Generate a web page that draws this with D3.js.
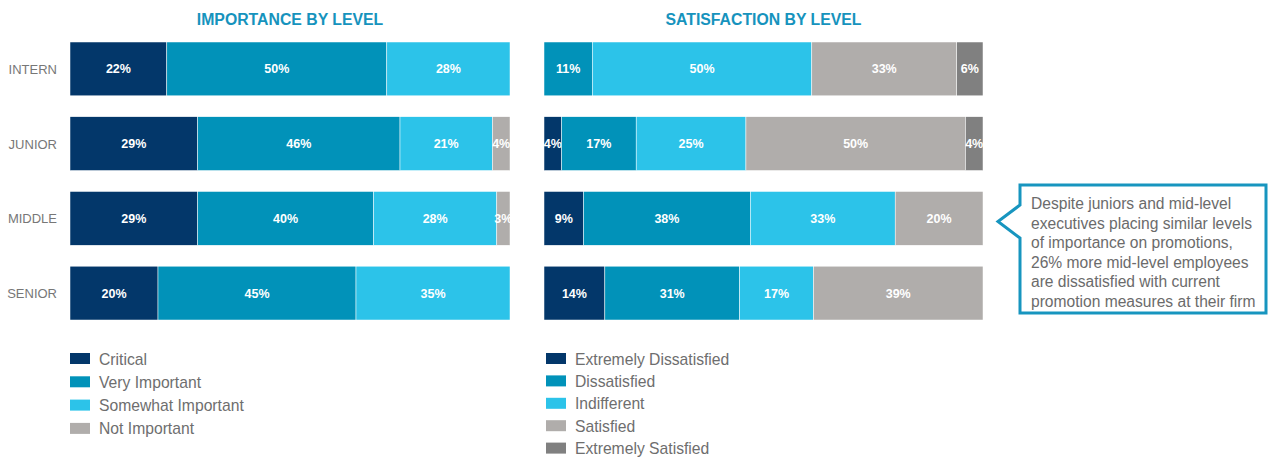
<!DOCTYPE html>
<html lang="en">
<head>
<meta charset="utf-8">
<title>Importance and Satisfaction by Level</title>
<script src="https://d3js.org/d3.v7.min.js"></script>
<style>
  body { margin: 0; background: #fff; }
  svg { display: block; font-family: "Liberation Sans", Arial, Helvetica, sans-serif; }
</style>
</head>
<body>
<script>
// ---- data ----
const levels = ["INTERN", "JUNIOR", "MIDDLE", "SENIOR"];

const importanceKeys = ["Critical", "Very Important", "Somewhat Important", "Not Important"];
const critical          = [22, 29, 29, 20];
const veryImportant     = [50, 46, 40, 45];
const somewhatImportant = [28, 21, 28, 35];
const notImportant      = [0, 4, 3, 0];

const satisfactionKeys = ["Extremely Dissatisfied", "Dissatisfied", "Indifferent", "Satisfied", "Extremely Satisfied"];
const extremelyDissatisfied = [0, 4, 9, 14];
const dissatisfied          = [11, 17, 38, 31];
const indifferent           = [50, 25, 33, 17];
const satisfied             = [33, 50, 20, 39];
const extremelySatisfied    = [6, 4, 0, 0];

const calloutLines = [
  "Despite juniors and mid-level",
  "executives placing similar levels",
  "of importance on promotions,",
  "26% more mid-level employees",
  "are dissatisfied with current",
  "promotion measures at their firm"
];

const W = 1268, H = 459;
const blues = ["#03376a", "#0192b9", "#2cc3e9", "#b0adab"];
const sats  = ["#03376a", "#0192b9", "#2cc3e9", "#b0adab", "#808080"];

const svg = d3.select("body").append("svg")
  .attr("width", W).attr("height", H);

const y = d3.scaleBand().domain(levels).range([42, 320]).paddingInner(0.28);

function rows(keys, series) {
  return levels.map((lv, i) => {
    const r = { level: lv };
    keys.forEach((k, j) => r[k] = series[j][i]);
    return r;
  });
}

function drawPanel(opts) {
  const g = svg.append("g");
  const x = d3.scaleLinear().domain([0, 1]).range([opts.x0, opts.x1]);
  const color = d3.scaleOrdinal().domain(opts.keys).range(opts.colors);
  const data = rows(opts.keys, opts.series);
  // shares per row (the senior satisfaction row adds to 101)
  const stacked = d3.stack().keys(opts.keys).offset(d3.stackOffsetExpand)(data);

  g.append("text")
    .attr("x", (opts.x0 + opts.x1) / 2)
    .attr("y", 25)
    .attr("text-anchor", "middle")
    .attr("fill", "#1693bd")
    .attr("font-weight", "bold")
    .attr("font-size", 15.8)
    .text(opts.title);

  const layer = g.selectAll("g.layer")
    .data(stacked)
    .enter().append("g")
      .attr("class", "layer")
      .attr("fill", d => color(d.key));

  layer.selectAll("rect")
    .data(d => d.filter(s => s[1] - s[0] > 0))
    .enter().append("rect")
      .attr("x", d => x(d[0]))
      .attr("y", d => y(d.data.level))
      .attr("width", d => x(d[1]) - x(d[0]))
      .attr("height", y.bandwidth())
      .attr("stroke", "#fff")
      .attr("stroke-width", 0.5);

  layer.selectAll("text")
    .data(d => d.filter(s => s[1] - s[0] > 0).map(s => ({ s: s, key: d.key })))
    .enter().append("text")
      .attr("x", d => (x(d.s[0]) + x(d.s[1])) / 2)
      .attr("y", d => y(d.s.data.level) + y.bandwidth() / 2 + 4.5)
      .attr("text-anchor", "middle")
      .attr("fill", "#fff")
      .attr("font-weight", "bold")
      .attr("font-size", 12.5)
      .text(d => d.s.data[d.key] + "%");

  // legend
  const lg = g.selectAll("g.legend")
    .data(opts.keys)
    .enter().append("g")
      .attr("class", "legend")
      .attr("transform", (d, i) => `translate(${opts.legendX},${359 + i * opts.legendStep})`);
  lg.append("rect")
    .attr("x", 0).attr("y", -6)
    .attr("width", 20).attr("height", 11)
    .attr("fill", d => color(d));
  lg.append("text")
    .attr("x", 29).attr("y", 5.5)
    .attr("fill", "#6e6e6e")
    .attr("font-size", 15.7)
    .text(d => d);

  return x;
}

drawPanel({
  title: "IMPORTANCE BY LEVEL",
  keys: importanceKeys,
  series: [critical, veryImportant, somewhatImportant, notImportant],
  colors: blues, x0: 70, x1: 510, legendX: 70, legendStep: 23.3
});

drawPanel({
  title: "SATISFACTION BY LEVEL",
  keys: satisfactionKeys,
  series: [extremelyDissatisfied, dissatisfied, indifferent, satisfied, extremelySatisfied],
  colors: sats, x0: 544, x1: 983, legendX: 546, legendStep: 22.4
});

// category labels
svg.append("g").selectAll("text")
  .data(levels)
  .enter().append("text")
    .attr("x", 57)
    .attr("y", d => y(d) + y.bandwidth() / 2 + 5)
    .attr("text-anchor", "end")
    .attr("fill", "#777")
    .attr("font-size", 13)
    .text(d => d);

// callout
const cb = { l: 1020, t: 185, r: 1266, b: 313 };
svg.append("path")
  .attr("d", `M${cb.l},${cb.t}H${cb.r}V${cb.b}H${cb.l}V238L998,221.5L${cb.l},205Z`)
  .attr("fill", "#fff")
  .attr("stroke", "#1795bf")
  .attr("stroke-width", 3);

svg.append("text")
  .attr("fill", "#6b6b6b")
  .attr("font-size", 15.6)
  .selectAll("tspan")
  .data(calloutLines)
  .enter().append("tspan")
    .attr("x", 1031)
    .attr("y", (d, i) => 209 + i * 19.5)
    .text(d => d);
</script>
</body>
</html>
